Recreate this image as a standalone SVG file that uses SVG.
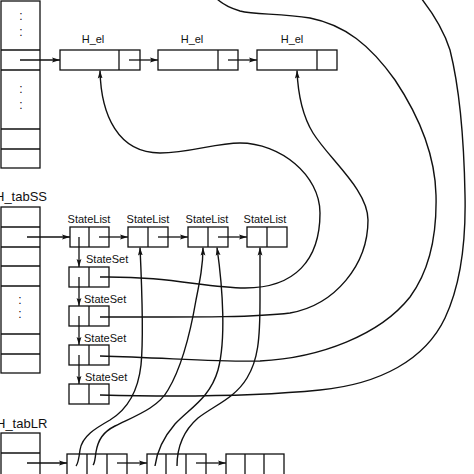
<svg xmlns="http://www.w3.org/2000/svg" width="474" height="474" viewBox="0 0 474 474">
<style>
.b{fill:#fff;stroke:#111;stroke-width:1.3}
.l{fill:none;stroke:#111;stroke-width:1.3}
.c{fill:none;stroke:#111;stroke-width:1.4}
.t{font-family:"Liberation Sans",Arial,sans-serif;font-size:11px;fill:#111}
.tl{font-family:"Liberation Sans",Arial,sans-serif;font-size:13px;fill:#111}
.d{font-family:"Liberation Sans",Arial,sans-serif;font-size:12px;fill:#111;text-anchor:middle}
.m{text-anchor:middle}
</style>
<defs>
<marker id="ah" markerWidth="8" markerHeight="6" refX="8" refY="3" orient="auto" markerUnits="userSpaceOnUse">
<path d="M0,0.6 L8,3 L0,5.4 L1.5,3 z" fill="#111"/>
</marker>
</defs>
<rect width="474" height="474" fill="#fff"/>

<g id="tab_top">
<rect class="b" x="1" y="1" width="39" height="167"/>
<path class="l" d="M1,50H40M1,70H40M1,129H40M1,149H40"/>
<text class="d" x="21" y="20">:</text>
<text class="d" x="21" y="36">:</text>
<text class="d" x="21" y="93">:</text>
<text class="d" x="21" y="109">:</text>
</g>

<g id="hel1">
<rect class="b" x="60" y="50" width="80" height="20"/>
<path class="l" d="M119,50V70"/>
<text class="t m" x="93" y="43">H_el</text>
</g>
<g id="hel2">
<rect class="b" x="158" y="50" width="80" height="20"/>
<path class="l" d="M218,50V70"/>
<text class="t m" x="192" y="43">H_el</text>
</g>
<g id="hel3">
<rect class="b" x="257" y="50" width="80" height="20"/>
<path class="l" d="M317,50V70"/>
<text class="t m" x="292" y="43">H_el</text>
</g>

<g id="tab_ss">
<text class="tl" x="-5" y="201">H_tabSS</text>
<rect class="b" x="1" y="207" width="39" height="166"/>
<path class="l" d="M1,227H40M1,247H40M1,266H40M1,286H40M1,334H40M1,354H40"/>
<text class="d" x="20" y="304">:</text>
<text class="d" x="20" y="318">:</text>
</g>

<g id="sl1">
<rect class="b" x="70" y="227" width="39" height="20"/>
<path class="l" d="M89,227V247"/>
<text class="t m" x="89" y="223">StateList</text>
</g>
<g id="sl2">
<rect class="b" x="128" y="227" width="40" height="20"/>
<path class="l" d="M148,227V247"/>
<text class="t m" x="148" y="223">StateList</text>
</g>
<g id="sl3">
<rect class="b" x="188" y="227" width="40" height="20"/>
<path class="l" d="M208,227V247"/>
<text class="t m" x="207" y="223">StateList</text>
</g>
<g id="sl4">
<rect class="b" x="247" y="227" width="40" height="20"/>
<path class="l" d="M267,227V247"/>
<text class="t m" x="265" y="223">StateList</text>
</g>

<g id="ss1">
<rect class="b" x="69" y="267" width="40" height="20"/>
<path class="l" d="M89,267V287"/>
<text class="t" x="86" y="263">StateSet</text>
</g>
<g id="ss2">
<rect class="b" x="69" y="306" width="40" height="20"/>
<path class="l" d="M89,306V326"/>
<text class="t" x="84" y="303">StateSet</text>
</g>
<g id="ss3">
<rect class="b" x="69" y="345" width="40" height="20"/>
<path class="l" d="M89,345V365"/>
<text class="t" x="84" y="342">StateSet</text>
</g>
<g id="ss4">
<rect class="b" x="69" y="384" width="40" height="20"/>
<path class="l" d="M89,384V404"/>
<text class="t" x="85" y="381">StateSet</text>
</g>

<g id="tab_lr">
<text class="tl" x="-4" y="428">H_tabLR</text>
<rect class="b" x="1" y="433" width="39" height="50"/>
<path class="l" d="M1,453H40"/>
</g>
<g id="lr1">
<rect class="b" x="67" y="454" width="60" height="30"/>
<path class="l" d="M87,454V474M107,454V474"/>
</g>
<g id="lr2">
<rect class="b" x="147" y="454" width="59" height="30"/>
<path class="l" d="M166,454V474M186,454V474"/>
</g>
<g id="lr3">
<rect class="b" x="226" y="454" width="58" height="30"/>
<path class="l" d="M245,454V474M264,454V474"/>
</g>

<g id="connectors">
<path class="l" marker-end="url(#ah)" d="M20,60H60"/>
<path class="l" marker-end="url(#ah)" d="M129,60H158"/>
<path class="l" marker-end="url(#ah)" d="M228,60H257"/>
<path class="l" marker-end="url(#ah)" d="M27,237H70"/>
<path class="l" marker-end="url(#ah)" d="M99,237H128"/>
<path class="l" marker-end="url(#ah)" d="M158,237H188"/>
<path class="l" marker-end="url(#ah)" d="M218,237H247"/>
<path class="l" marker-end="url(#ah)" d="M79,237V267"/>
<path class="l" marker-end="url(#ah)" d="M79,277V306"/>
<path class="l" marker-end="url(#ah)" d="M79,316V345"/>
<path class="l" marker-end="url(#ah)" d="M79,355V384"/>
<path class="l" marker-end="url(#ah)" d="M27,463H67"/>
<path class="l" marker-end="url(#ah)" d="M117,463H147"/>
<path class="l" marker-end="url(#ah)" d="M196,463H226"/>

<path class="c" marker-end="url(#ah)" d="M100,277 C170,276 205,288 245,288 C295,288 320,260 320,213 C320,175 280,143 240,143 C215,143 190,153 160,153 C118,153 101,115 100,70.5"/>
<path class="c" marker-end="url(#ah)" d="M100,317 C180,317 250,318 290,313 C335,305 368,265 368,220 C368,190 330,160 313,133 C302,115 298,95 297,70.5"/>
<path class="c" d="M100,356 C170,358 220,362 260,361 C320,358 380,335 410,297 C430,270 437,235 436,195 C435,150 415,110 395,80 C370,45 345,25 310,18 C280,13 255,15 240,11 C230,8 222,4 216,-2"/>
<path class="c" d="M100,395 C180,397 260,396 320,390 C380,384 425,360 445,318 C462,282 466,240 465,195 C464,140 460,90 450,50 C443,28 432,12 421,-2"/>

<path class="c" marker-end="url(#ah)" d="M76,466 C78,464 79,458 80,450 C82,436 96,428 110,420 C128,409 138,392 141,365 C144,335 142,290 140,247.5"/>
<path class="c" marker-end="url(#ah)" d="M93,465 C95,463 95,458 96,452 C98,440 103,432 115,426 C135,416 158,408 168,390 C180,370 190,335 196,300 C200,280 203,265 203,247.5"/>
<path class="c" marker-end="url(#ah)" d="M155,466 C157,450 163,438 175,424 C190,408 210,398 218,370 C226,340 223,290 217,247.5"/>
<path class="c" marker-end="url(#ah)" d="M177,466 C177,450 182,432 198,418 C215,405 235,398 247,378 C258,360 260,340 260,300 L260,247.5"/>
</g>
</svg>
